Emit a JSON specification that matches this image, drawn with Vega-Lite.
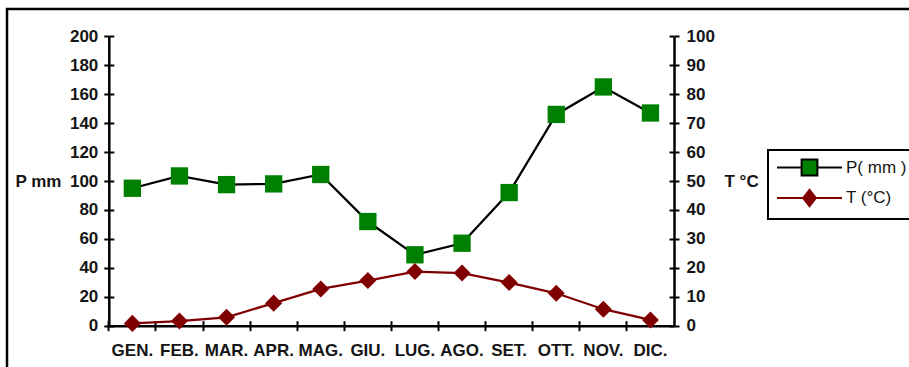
{
  "$schema": "https://vega.github.io/schema/vega-lite/v6.json",
  "width": 906,
  "height": 362,
  "autosize": {"type": "none"},
  "padding": {"left": 7, "top": 9, "right": -4, "bottom": -4},
  "background": "white",
  "config": {
    "view": {"stroke": "black", "strokeWidth": 2.5},
    "font": "Liberation Sans",
    "axis": {
      "grid": false,
      "labelFont": "Liberation Sans",
      "labelFontSize": 17,
      "labelFontWeight": "bold",
      "labelColor": "#151515",
      "labelFlush": false,
      "labelOverlap": false,
      "domainColor": "black",
      "domainWidth": 2.5,
      "tickColor": "black",
      "tickWidth": 2,
      "tickSize": 5,
      "titleFont": "Liberation Sans",
      "titleFontSize": 17,
      "titleFontWeight": "bold",
      "titleColor": "#151515"
    },
    "legend": {
      "orient": "none",
      "legendX": 761,
      "legendY": 141,
      "title": null,
      "strokeColor": "black",
      "strokeWidth": 2,
      "fillColor": "white",
      "padding": 8,
      "rowPadding": 5.5,
      "symbolSize": 289,
      "symbolStrokeWidth": 2,
      "symbolOffset": 24,
      "labelOffset": 27,
      "labelFont": "Liberation Sans",
      "labelFontSize": 17,
      "labelFontWeight": "normal",
      "labelColor": "#151515",
      "labelBaseline": "middle"
    }
  },
  "data": {
    "values": [
      {"month": "GEN.", "P": 95, "T": 0.8},
      {"month": "FEB.", "P": 103.5, "T": 1.6},
      {"month": "MAR.", "P": 97.5, "T": 2.9},
      {"month": "APR.", "P": 98, "T": 7.8},
      {"month": "MAG.", "P": 104.5, "T": 12.7},
      {"month": "GIU.", "P": 72, "T": 15.6},
      {"month": "LUG.", "P": 49, "T": 18.7},
      {"month": "AGO.", "P": 57, "T": 18.2},
      {"month": "SET.", "P": 92, "T": 14.9},
      {"month": "OTT.", "P": 146, "T": 11.2},
      {"month": "NOV.", "P": 165, "T": 5.7},
      {"month": "DIC.", "P": 147, "T": 2.0}
    ]
  },
  "layer": [
    {
      "encoding": {
        "x": {
          "field": "month",
          "type": "nominal",
          "sort": null,
          "scale": {"type": "band", "range": [101.8, 667], "paddingInner": 0, "paddingOuter": 0}
        },
        "y": {
          "field": "P",
          "type": "quantitative",
          "scale": {"domain": [0, 200], "range": [316.7, 27.3], "nice": false, "zero": true}
        }
      },
      "layer": [
        {
          "mark": {"type": "line", "color": "black", "strokeWidth": 2.25},
          "encoding": {
            "x": {
              "field": "month", "type": "nominal", "sort": null,
              "axis": {"orient": "bottom", "offset": -45.3, "title": null, "labels": false, "ticks": true, "domain": true, "bandPosition": 0, "tickSize": 5}
            },
            "y": {
              "field": "P", "type": "quantitative",
              "axis": {
                "orient": "left",
                "offset": -101.8,
                "values": [0, 20, 40, 60, 80, 100, 120, 140, 160, 180, 200],
                "tickSize": 5,
                "labelPadding": 6,
                "title": "P mm",
                "titleAngle": 0,
                "titleAlign": "left",
                "titleBaseline": "middle",
                "titleX": -93.8,
                "titleY": 172
              }
            }
          }
        },
        {
          "mark": {"type": "point", "shape": "square", "filled": true, "fill": "#008000", "opacity": 1, "size": 300, "strokeWidth": 0},
          "encoding": {
            "x": {
              "field": "month", "type": "nominal", "sort": null,
              "axis": {"orient": "bottom", "offset": -45.3, "title": null, "labels": false, "ticks": true, "domain": false, "bandPosition": 0, "tickSize": -5}
            },
            "y": {
              "field": "P", "type": "quantitative",
              "axis": {
                "orient": "left",
                "offset": -101.8,
                "values": [0, 20, 40, 60, 80, 100, 120, 140, 160, 180, 200],
                "tickSize": -5,
                "labels": false,
                "domain": false,
                "title": null
              }
            }
          }
        },
        {
          "mark": {"type": "point", "filled": true, "opacity": 0},
          "encoding": {
            "x": {"field": "month", "type": "nominal", "sort": null, "axis": null},
            "y": {"field": "P", "type": "quantitative", "axis": null},
            "fill": {"datum": "P( mm )", "type": "nominal", "scale": {"domain": ["P( mm )", "T (°C)"], "range": ["#008000", "#800000"]}},
            "stroke": {"datum": "P( mm )", "type": "nominal", "scale": {"domain": ["P( mm )", "T (°C)"], "range": ["black", "#800000"]}},
            "shape": {"datum": "P( mm )", "type": "nominal", "scale": {"domain": ["P( mm )", "T (°C)"], "range": ["M-3.82,0H-0.93M0.93,0H3.82M-0.93,-0.93H0.93V0.93H-0.93Z", "M-3.82,0H-0.75M0.75,0H3.82M-0.75,0L0,-0.96L0.75,0L0,0.96Z"]}}
          }
        }
      ],
      "resolve": {"axis": {"x": "independent", "y": "independent"}}
    },
    {
      "encoding": {
        "x": {
          "field": "month",
          "type": "nominal",
          "sort": null,
          "scale": {"type": "band", "range": [101.8, 667], "paddingInner": 0, "paddingOuter": 0}
        },
        "y": {
          "field": "T",
          "type": "quantitative",
          "scale": {"domain": [0, 100], "range": [316.7, 27.3], "nice": false, "zero": true}
        }
      },
      "layer": [
        {
          "mark": {"type": "line", "color": "#800000", "strokeWidth": 2.25},
          "encoding": {
            "x": {
              "field": "month", "type": "nominal", "sort": null,
              "axis": {"orient": "bottom", "offset": -45.3, "title": null, "labels": true, "ticks": false, "domain": false, "labelAngle": 0, "labelPadding": 16.3}
            },
            "y": {
              "field": "T", "type": "quantitative",
              "axis": {
                "orient": "right",
                "offset": -239,
                "values": [0, 10, 20, 30, 40, 50, 60, 70, 80, 90, 100],
                "tickSize": 5,
                "labelPadding": 7,
                "title": "T °C",
                "titleAngle": 0,
                "titleAlign": "left",
                "titleBaseline": "middle",
                "titleX": 50,
                "titleY": 172
              }
            }
          }
        },
        {
          "mark": {"type": "point", "shape": "diamond", "filled": true, "fill": "#800000", "opacity": 1, "size": 290, "strokeWidth": 0},
          "encoding": {
            "x": {"field": "month", "type": "nominal", "sort": null, "axis": null},
            "y": {
              "field": "T", "type": "quantitative",
              "axis": {
                "orient": "right",
                "offset": -239,
                "values": [0, 10, 20, 30, 40, 50, 60, 70, 80, 90, 100],
                "tickSize": -5,
                "labels": false,
                "domain": false,
                "title": null
              }
            }
          }
        },
        {
          "mark": {"type": "point", "filled": true, "opacity": 0},
          "encoding": {
            "x": {"field": "month", "type": "nominal", "sort": null, "axis": null},
            "y": {"field": "T", "type": "quantitative", "axis": null},
            "fill": {"datum": "T (°C)", "type": "nominal", "scale": {"domain": ["P( mm )", "T (°C)"], "range": ["#008000", "#800000"]}},
            "stroke": {"datum": "T (°C)", "type": "nominal", "scale": {"domain": ["P( mm )", "T (°C)"], "range": ["black", "#800000"]}},
            "shape": {"datum": "T (°C)", "type": "nominal", "scale": {"domain": ["P( mm )", "T (°C)"], "range": ["M-3.82,0H-0.93M0.93,0H3.82M-0.93,-0.93H0.93V0.93H-0.93Z", "M-3.82,0H-0.75M0.75,0H3.82M-0.75,0L0,-0.96L0.75,0L0,0.96Z"]}}
          }
        }
      ],
      "resolve": {"axis": {"x": "independent", "y": "independent"}}
    }
  ],
  "resolve": {"scale": {"y": "independent"}, "axis": {"x": "independent", "y": "independent"}}
}
